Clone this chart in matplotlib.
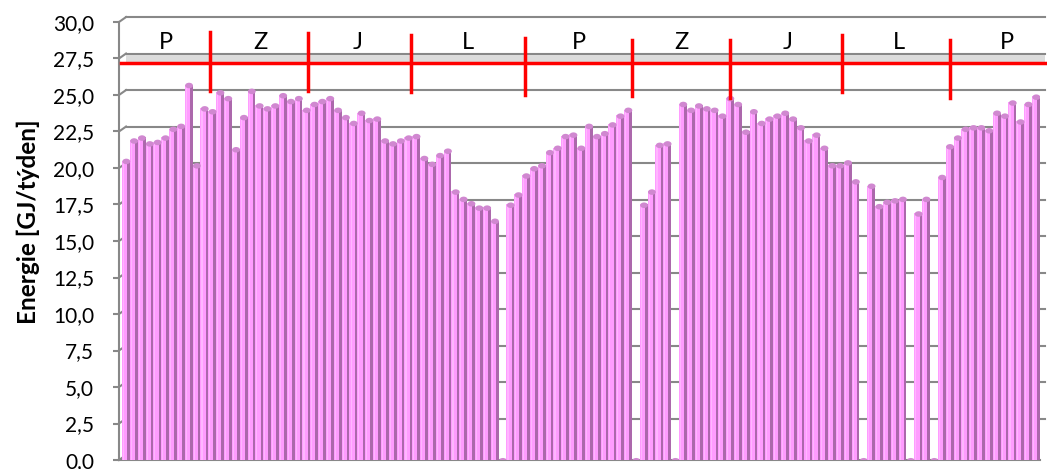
import matplotlib
matplotlib.use("Agg")
import matplotlib.pyplot as plt
from matplotlib.patches import Ellipse
import numpy as np

# týdenní spotřeba energie [GJ/týden], nuly = chybějící týdny
energie = [20.5, 21.9, 22.1, 21.7, 21.8, 22.1, 22.7, 22.9, 25.7, 20.2,
           24.1, 23.9, 25.2, 24.8, 21.3, 23.5, 25.3, 24.3, 24.1, 24.3,
           25.0, 24.6, 24.8, 24.0, 24.4, 24.6, 24.8, 24.0, 23.5, 23.1,
           23.8, 23.3, 23.4, 21.9, 21.7, 21.9, 22.1, 22.2, 20.7, 20.3,
           20.9, 21.2, 18.4, 17.9, 17.6, 17.3, 17.3, 16.4,
           0.0,
           17.5, 18.2, 19.5, 20.0, 20.2, 21.1, 21.4, 22.2, 22.3, 21.4,
           22.9, 22.2, 22.4, 23.0, 23.6, 24.0,
           0.0,
           17.5, 18.4, 21.6, 21.7,
           0.0,
           24.4, 24.0, 24.3, 24.1, 24.0, 23.6, 24.8, 24.4, 22.5, 23.9,
           23.1, 23.4, 23.6, 23.8, 23.4, 22.8, 21.9, 22.3, 21.4, 20.2,
           20.2, 20.4, 19.1,
           0.0,
           18.8, 17.4, 17.7, 17.8, 17.9,
           0.0,
           16.9, 17.9,
           0.0,
           19.4, 21.5, 22.1, 22.7, 22.8, 22.8, 22.6, 23.8, 23.6, 24.5,
           23.2, 24.4, 24.9]

# roční období (P = podzim, Z = zima, J = jaro, L = léto)
obdobi = ['P', 'Z', 'J', 'L', 'P', 'Z', 'J', 'L', 'P']
obdobi_x = [5.1, 17.2, 29.6, 43.6, 57.8, 70.8, 84.3, 98.6, 112.3]
hranice_x = [10.7, 23.15, 36.4, 50.9, 64.5, 77.0, 91.3, 105.05]
hranice_horni = [29.3, 29.25, 29.1, 28.9, 28.8, 28.8, 29.1, 28.8]
hranice_dolni = [25.3, 25.3, 25.2, 25.0, 24.9, 24.8, 25.2, 24.8]
limit = 27.2

yticks = [0, 2.5, 5, 7.5, 10, 12.5, 15, 17.5, 20, 22.5, 25, 27.5, 30]

plt.rcParams['font.family'] = ['Lato', 'DejaVu Sans']

fig = plt.figure(figsize=(10.47, 4.69), dpi=100)
ax = fig.add_axes([119 / 1047, 9 / 469, 921 / 1047, 438 / 469])
xl, xr = -0.88, 116.52
ax.set_xlim(xl, xr)
ax.set_ylim(0, 30)

seda = '#888888'
dx, dy = 0.9, 0.34  # posun zadní stěny (3D)

# zadní stěna - mřížka
for v in yticks:
    ax.plot([xl, xl + dx], [v, v + dy], color=seda, lw=1.5, clip_on=False, zorder=1)
    if v > 0:
        ax.plot([xl + dx, 117.1], [v + dy, v + dy], color=seda, lw=1.5,
                clip_on=False, zorder=1)
ax.fill_between([xl + dx, 117.1], [limit, limit], [27.5 + dy - 0.08] * 2,
                color='#DCDCDC', lw=0, zorder=1, clip_on=False)

# sloupce (válce)
x = np.arange(len(energie))
h = np.array(energie)
ax.bar(x - 0.15, h, width=0.7, color='#FF9CFF', lw=0, zorder=3)
ax.bar(x - 0.3, h, width=0.14, color='#FFB6FF', lw=0, zorder=3)
ax.bar(x + 0.33, h, width=0.34, color='#AC68AC', lw=0, zorder=3)
for xi, v in zip(x, h):
    ax.add_patch(Ellipse((xi + 0.05, v - 0.05), 1.0, 0.38, color='#D088D0',
                         lw=0, zorder=4))

# limit a hranice období
ax.plot([xl + 0.2, 117.4], [limit, limit], color='#FF0000', lw=2.5,
        clip_on=False, zorder=5)
for bx, top, bot in zip(hranice_x, hranice_horni, hranice_dolni):
    ax.plot([bx, bx], [bot, top], color='#FF0000', lw=2.5, clip_on=False, zorder=5)
for s, sx in zip(obdobi, obdobi_x):
    ax.text(sx, 28.6, s, ha='center', va='center', fontsize=17, zorder=6)

for sp in ['top', 'right']:
    ax.spines[sp].set_visible(False)
ax.spines['left'].set_color(seda)
ax.spines['left'].set_linewidth(1.5)
ax.spines['bottom'].set_color(seda)
ax.spines['bottom'].set_linewidth(1.5)
ax.set_xticks([])
ax.set_yticks(yticks)
ax.set_yticklabels([('%.1f' % v).replace('.', ',') for v in yticks])
ax.tick_params(axis='y', length=4, width=1.5, color=seda, pad=14, labelsize=15)

fig.text(28 / 1047, 1 - 222 / 469, 'Energie [GJ/týden]', rotation=90,
         fontsize=17.5, fontweight='bold', ha='center', va='center')

fig.savefig('out.png', dpi=100)
